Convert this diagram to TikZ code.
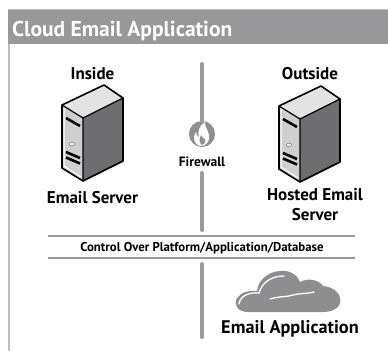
\documentclass[tikz,border=0pt]{standalone}
\usepackage{fontspec}
\setmainfont{PT Sans}
\definecolor{barGray}{HTML}{98989B}
\definecolor{lineGray}{HTML}{9B9B9D}
\definecolor{sideGray}{HTML}{6E6E70}
\definecolor{frontGray}{HTML}{CFCFD0}
\definecolor{topGray}{HTML}{E4E4E5}
\definecolor{cloudGray}{HTML}{8E8E90}
\definecolor{borderGray}{HTML}{BDBDBF}
\tikzset{
  lbl/.style={inner sep=0pt, font=\bfseries\fontsize{17}{20}\selectfont, text=black},
  smalllbl/.style={inner sep=0pt, font=\bfseries\fontsize{12.8}{14}\selectfont, text=black},
  vline/.style={draw=lineGray, line width=4pt, line cap=round},
  hline/.style={draw=lineGray, line width=2.5pt},
  server/.pic={
    \fill[topGray] (0,0) -- (42,-20) -- (61,-7) -- (21,13) -- cycle;
    \fill[frontGray] (0,0) -- (21,13) -- (21,76) -- (0,63) -- cycle;
    \fill[sideGray] (21,13) -- (61,-7) -- (61,56) -- (21,76) -- cycle;
    \draw[white, line width=1pt] (2,3) -- (2,61) -- (19,72);
    \draw[black, line width=1.6pt, line join=round] (0,0) -- (42,-20) -- (61,-7) -- (61,56) -- (21,76) -- (0,63) -- cycle;
    \draw[black, line width=1.2pt, line join=round] (0,0) -- (21,13) -- (61,-7) (21,13) -- (21,76);
    \draw[black, line width=2.6pt] (4,13) -- (18,21);
    \draw[black, line width=2.6pt] (4,47) -- (18,53);
    \draw[black, line width=2.6pt] (4,52.5) -- (18,58.5);
    \draw[gray, line width=0.6pt, fill=white] (10,39) ellipse (2.6 and 1.8);
  }
}
\begin{document}
\begin{tikzpicture}[x=1pt,y=-1pt]
\useasboundingbox (0,0) rectangle (388,351);
\fill[white] (0,0) rectangle (388,351);
% frame
\fill[barGray] (8,9) rectangle (388,44);
\draw[borderGray, line width=0.8pt] (8,9.4) -- (388,9.4);
\draw[borderGray, line width=2pt] (9,44) -- (9,351);
\node[anchor=base west, inner sep=0pt, text=white, font=\bfseries\fontsize{21.5}{24}\selectfont] (title) at (12,36) {Cloud Email Application};
% headings
\node[lbl, anchor=base] (inside) at (92.5,79) {Inside};
\node[lbl, anchor=base] (outside) at (310,79) {Outside};
% servers
\pic at (62,105) {server};
\pic at (279,106) {server};
\node[lbl, anchor=base] (es) at (92.5,203) {Email Server};
\node[lbl, anchor=base] (hes1) at (315,200) {Hosted Email};
\node[lbl, anchor=base] (hes2) at (315,220) {Server};
% firewall
\coordinate (v1top) at (202,64);
\node[circle, fill=cloudGray, minimum size=26pt, inner sep=0pt] (fw) at (202,134) {};
\draw[vline] (v1top) -- (fw.north);
\fill[white] (201,146) .. controls (194,145) and (192,138) .. (196,132)
  .. controls (197,136) and (198,137) .. (199,137)
  .. controls (197,131) and (200,125) .. (205,122)
  .. controls (204,127) and (210,131) .. (209,139)
  .. controls (208,143) and (205,146) .. (201,146) -- cycle;
\fill[cloudGray] (202,145) .. controls (199,143) and (199,139) .. (201,135)
  .. controls (202,138) and (204,139) .. (205,139)
  .. controls (206,142) and (204,145) .. (202,145) -- cycle;
\node[smalllbl, anchor=base, font=\bfseries\fontsize{13.5}{15}\selectfont] (fwl) at (202,166) {Firewall};
\coordinate (v2top) at (202,173);
\coordinate (v2bot) at (202,230);
\draw[vline] (v2top) -- (v2bot);
% control band
\coordinate (h1l) at (48,236); \coordinate (h1r) at (355,236);
\coordinate (h2l) at (48,258); \coordinate (h2r) at (355,258);
\draw[hline] (h1l) -- (h1r);
\draw[hline] (h2l) -- (h2r);
\node[smalllbl, anchor=base] (ctrl) at (202,251.5) {Control Over Platform/Application/Database};
\coordinate (v3top) at (202,264);
\coordinate (v3bot) at (202,337);
\draw[vline] (v3top) -- (v3bot);
% cloud
\fill[cloudGray] (248,312) .. controls (238,312) and (233,305) .. (237,298)
  .. controls (241,292) and (250,290) .. (257,291)
  .. controls (258,280) and (269,271) .. (281,271)
  .. controls (291,270) and (298,276) .. (300,282)
  .. controls (307,278) and (318,279) .. (323,286)
  .. controls (335,287) and (342,295) .. (340,303)
  .. controls (338,310) and (330,312) .. (322,312) -- cycle;
\draw[white, line width=1.3pt, line cap=round] (239,304) .. controls (240,296) and (249,292) .. (259,293)
  .. controls (262,282) and (272,276) .. (284,276);
\draw[white, line width=1.3pt, line cap=round] (270,299) .. controls (280,296) and (288,297) .. (293,295)
  .. controls (300,293) and (307,294) .. (314,292);
\node[lbl, anchor=base, font=\bfseries\fontsize{18.3}{22}\selectfont] (ea) at (290,333) {Email Application};
\end{tikzpicture}
\end{document}
